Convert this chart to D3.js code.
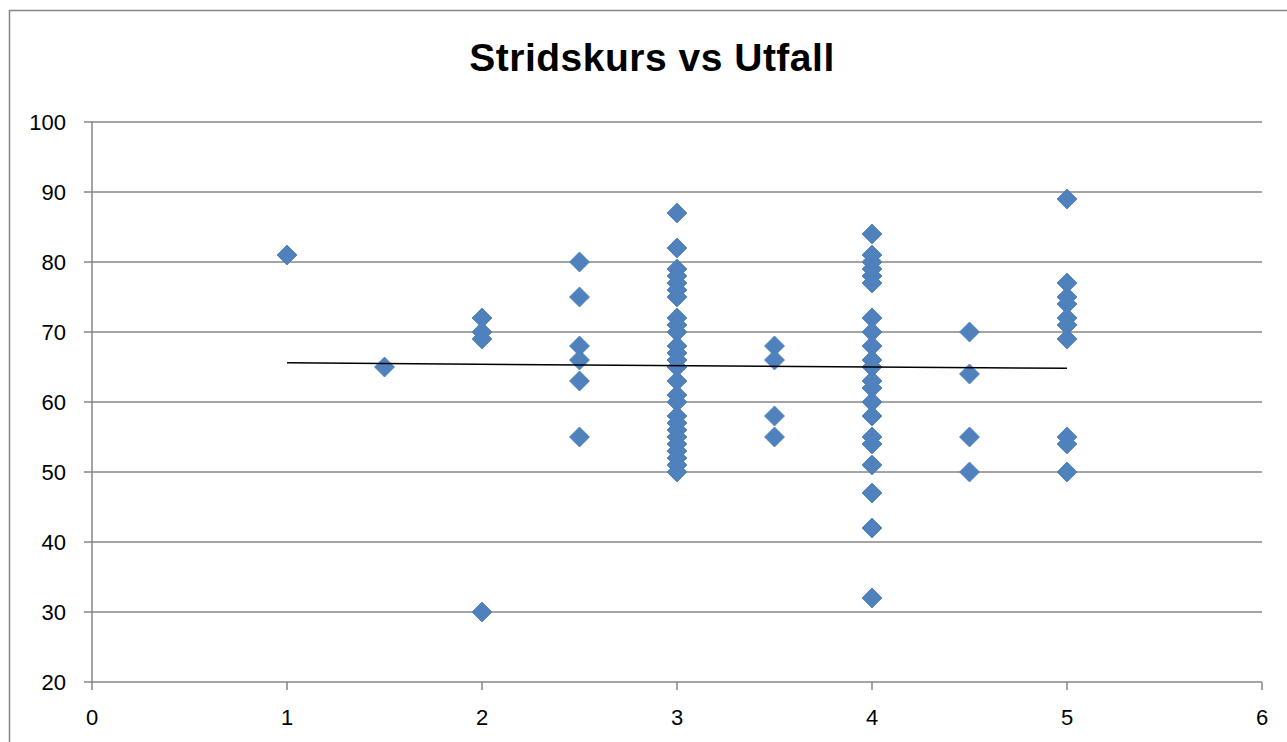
<!DOCTYPE html>
<html><head><meta charset="utf-8">
<script src="https://cdn.jsdelivr.net/npm/d3@7"></script>
<style>body{margin:0;background:#fff}svg{display:block}</style>
</head><body>
<svg id="c" width="1287" height="742"></svg>
<script>
const title = "Stridskurs vs Utfall";
const xTicks = [0,1,2,3,4,5,6];
const yTicks = [20,30,40,50,60,70,80,90,100];
// Stridskurs (x) grouped with Utfall values (y)
const groupX = [1, 1.5, 2, 2.5, 3, 3.5, 4, 4.5, 5];
const groupY = [
  [81],
  [65],
  [72,70,69,30],
  [80,75,68,66,63,55],
  [87,82,79,78,77,76,75,72,71,70,68,67,66,65,63,61,60,58,57,56,55,54,53,52,51,50],
  [68,66,58,55],
  [84,81,80,79,78,77,72,70,68,66,65,63,62,60,58,55,54,51,47,42,32],
  [70,64,55,50],
  [89,77,75,74,72,71,69,55,54,50]
];
const points = [];
groupX.forEach((gx,i)=>groupY[i].forEach(v=>points.push([gx,v])));

const svg = d3.select("#c");
const x = d3.scaleLinear().domain([0,6]).range([92,1262]);
const y = d3.scaleLinear().domain([20,100]).range([682,122]);
const grey = "#868686";

svg.append("rect").attr("x",9.5).attr("y",10.5).attr("width",1400).attr("height",900)
  .attr("fill","#fff").attr("stroke",grey).attr("stroke-width",1.5);

svg.append("text").attr("x",652).attr("y",71).attr("text-anchor","middle")
  .attr("font-family","Liberation Sans, Arial, sans-serif").attr("font-weight","bold")
  .attr("font-size",39).attr("letter-spacing",0.5).attr("fill","#000").text(title);

// gridlines
svg.append("g").selectAll("line").data(yTicks).join("line")
  .attr("x1",84).attr("x2",1262).attr("y1",d=>y(d)).attr("y2",d=>y(d))
  .attr("stroke",grey).attr("stroke-width",1.5);
// y axis line
svg.append("line").attr("x1",x(0)).attr("x2",x(0)).attr("y1",y(100)).attr("y2",y(20))
  .attr("stroke",grey).attr("stroke-width",1.5);
// x ticks
svg.append("g").selectAll("line").data(xTicks).join("line")
  .attr("x1",d=>x(d)).attr("x2",d=>x(d)).attr("y1",y(20)).attr("y2",y(20)+8)
  .attr("stroke",grey).attr("stroke-width",1.5);

const font = "Liberation Sans, Arial, sans-serif";
svg.append("g").selectAll("text").data(yTicks).join("text")
  .attr("x",66).attr("y",d=>y(d)+8).attr("text-anchor","end")
  .attr("font-family",font).attr("font-size",22).attr("fill","#000").text(d=>d);
svg.append("g").selectAll("text").data(xTicks).join("text")
  .attr("x",d=>x(d)).attr("y",y(20)+43).attr("text-anchor","middle")
  .attr("font-family",font).attr("font-size",22).attr("fill","#000").text(d=>d);

// points
const r = 10;
svg.append("g").selectAll("path").data(points).join("path")
  .attr("d",d=>{const cx=x(d[0]),cy=y(d[1]);return `M${cx},${cy-r}L${cx+r},${cy}L${cx},${cy+r}L${cx-r},${cy}Z`;})
  .attr("fill","#4F81BD").attr("stroke","#4A7EBB").attr("stroke-width",0.8);

// linear trendline
const mx = d3.mean(points,d=>d[0]), my = d3.mean(points,d=>d[1]);
const sxy = d3.sum(points,d=>(d[0]-mx)*(d[1]-my)), sxx = d3.sum(points,d=>(d[0]-mx)**2);
const b = sxy/sxx, a = my - b*mx;
const [x0,x1] = d3.extent(points,d=>d[0]);
svg.append("line").attr("x1",x(x0)).attr("x2",x(x1)).attr("y1",y(a+b*x0)).attr("y2",y(a+b*x1))
  .attr("stroke","#000").attr("stroke-width",1.5);
</script>
</body></html>
